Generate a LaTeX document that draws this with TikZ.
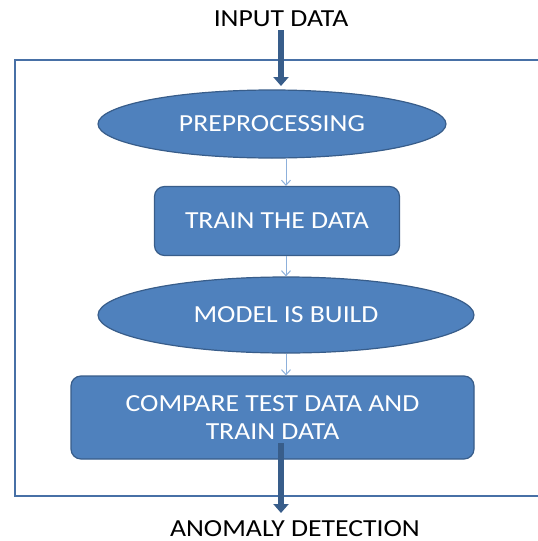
\documentclass[tikz,border=0pt]{standalone}
\usepackage{fontspec}
\setmainfont{Carlito}[FakeStretch=1.13]
\usetikzlibrary{shapes.geometric,arrows.meta}
\definecolor{boxfill}{HTML}{4F81BD}
\definecolor{boxline}{HTML}{385D8A}
\definecolor{thinarr}{HTML}{8DB0DB}
\definecolor{outerline}{HTML}{4770A6}
\tikzset{
  x=1pt, y=-1pt,
  txt/.style={font=\fontsize{24.5}{28}\selectfont, text=white, inner sep=0pt, align=center},
  oval/.style={ellipse, draw=boxline, fill=boxfill, line width=1.2pt, txt},
  rbox/.style={rectangle, rounded corners=10pt, draw=boxline, fill=boxfill, line width=1.2pt, txt},
  label/.style={font=\fontsize{24.5}{26}\selectfont, text=black, inner sep=0pt},
  thin/.style={draw=thinarr, line width=1pt, -{Straight Barb[length=5pt,width=9pt]}},
  thick/.style={draw=boxline, line width=5.5pt, -{Triangle[length=9pt,width=15pt]}}
}
\begin{document}
\begin{tikzpicture}
\useasboundingbox (0,0) rectangle (538,541);
\clip (0,0) rectangle (538,541);
\fill[white] (0,0) rectangle (538,541);
% outer frame
\draw[outerline, line width=2pt] (15,60) rectangle (560,496);
% nodes
\node[label] (in) at (281,19) {INPUT DATA};
\node[oval, minimum width=348pt, minimum height=68pt] (pre) at (272,124) {PREPROCESSING};
\node[rbox, minimum width=245pt, minimum height=69pt] (train) at (277,221) {TRAIN THE DATA};
\node[oval, minimum width=376pt, minimum height=76pt] (model) at (286,315) {MODEL IS BUILD};
\node[rbox, minimum width=403pt, minimum height=83pt] (cmp) at (272.5,417.5) {COMPARE TEST DATA AND\\TRAIN DATA};
\node[label] (out) at (295,529) {ANOMALY DETECTION};
% connectors
\coordinate (inend) at (281,86);
\coordinate (cmpstart) at (281,443);
\coordinate (outend) at (281,513);
\draw[thick] (in.south |- 0,30) -- (inend);
\draw[thin] (pre.south -| 286,0) -- (train.north -| 286,0);
\draw[thin] (train.south -| 286,0) -- (model.north -| 286,0);
\draw[thin] (model.south -| 286,0) -- (cmp.north -| 286,0);
\draw[thick] (cmpstart) -- (outend);
\end{tikzpicture}
\end{document}
